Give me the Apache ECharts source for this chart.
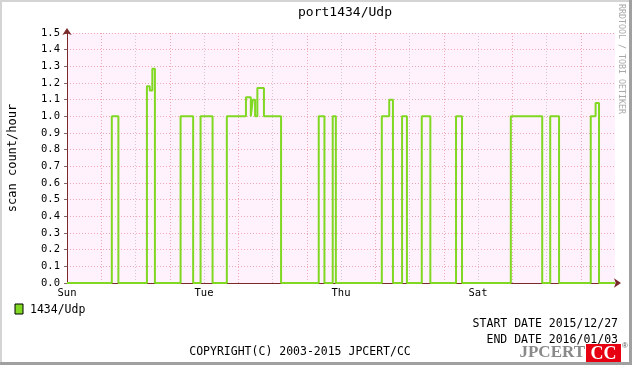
<!DOCTYPE html>
<html>
<head>
<meta charset="utf-8">
<script src="https://cdn.jsdelivr.net/npm/echarts@6/dist/echarts.min.js"></script>
<style>
html,body{margin:0;padding:0;background:#fff;}
#c{width:632px;height:365px;}
</style>
</head>
<body>
<div id="c"></div>
<script>
// ---- data ----
const chartTitle = 'port1434/Udp';
const seriesName = '1434/Udp';
const yAxisTitle = 'scan count/hour';
const dayLabels = ['Sun', 'Tue', 'Thu', 'Sat'];           // one label every 48 h
const startDate = 'START DATE 2015/12/27';
const endDate = 'END DATE 2016/01/03';
const copyright = 'COPYRIGHT(C) 2003-2015 JPCERT/CC';
// hour (from Sun 00:00) where each level begins
const changeHours = [0, 15.7, 18.0, 28.0, 29.0, 29.9, 30.8, 39.8, 44.2, 46.8, 51.0,
  56.0, 62.7, 64.4, 65.1, 65.9, 66.7, 69.0, 75.0, 88.2, 90.2, 93.1, 94.2,
  110.3, 112.9, 114.2, 117.4, 119.1, 124.3, 127.3, 136.3, 138.4, 155.5, 166.5,
  169.3, 172.4, 183.5, 185.2, 186.4, 192];
// scan count/hour level starting at that hour
const levels = [0, 1.0, 0, 1.18, 1.155, 1.285, 0, 1.0, 0, 1.0, 0,
  1.0, 1.114, 1.0, 1.10, 1.0, 1.17, 1.0, 0, 1.0, 0, 1.0, 0,
  1.0, 1.10, 0, 1.0, 0, 1.0, 0, 1.0, 0, 1.0, 0,
  1.0, 0, 1.0, 1.08, 0, 0];

const seriesData = changeHours.map((h, i) => [h, levels[i]]);

const mono = 'DejaVu Sans Mono';
const lineColor = '#80d822';
const chart = echarts.init(document.getElementById('c'), null, {renderer: 'canvas'});
chart.setOption({
  backgroundColor: '#ffffff',
  animation: false,
  grid: {left: 67, right: 17, top: 33, bottom: 82, outerBoundsMode: 'none', containLabel: false,
    show: true, backgroundColor: '#fff2fc', borderWidth: 0},
  xAxis: {
    type: 'value', min: 0, max: 192, interval: 12,
    axisLine: {show: true, lineStyle: {color: '#7a2a2a', width: 1}, symbol: ['none', 'arrow'], symbolSize: [7, 7], symbolOffset: [0, 6]},
    axisTick: {show: false},
    axisLabel: {
      margin: 5, fontFamily: mono, fontSize: 10.5, color: '#000',
      showMaxLabel: false,
      formatter: v => (v % 48 === 0 && v / 48 < dayLabels.length) ? dayLabels[v / 48] : ''
    },
    splitLine: {show: true, showMinLine: false, showMaxLine: false,
      lineStyle: {type: [1, 2], width: 1, color: ['#eca8b0', '#d8c4d4']}}
  },
  yAxis: {
    type: 'value', min: 0, max: 1.5, interval: 0.1,
    name: yAxisTitle, nameLocation: 'middle', nameRotate: 90, nameGap: 48,
    nameTextStyle: {fontFamily: mono, fontSize: 12, color: '#000'},
    axisLine: {show: true, lineStyle: {color: '#7a2a2a', width: 1}, symbol: ['none', 'arrow'], symbolSize: [7, 7], symbolOffset: [0, 5]},
    axisTick: {show: true, length: 3, inside: false, lineStyle: {color: '#886666'}},
    axisLabel: {margin: 7, fontFamily: mono, fontSize: 10.5, color: '#000', formatter: v => v.toFixed(1)},
    splitLine: {show: true, showMinLine: false, lineStyle: {type: [1, 2], width: 1, color: '#eca8b0'}}
  },
  series: [{
    name: seriesName, type: 'line', step: 'end', data: seriesData,
    symbol: 'none', clip: false,
    lineStyle: {color: lineColor, width: 2}, z: 5
  }],
  graphic: [
    // outer frame
    {type: 'rect', left: 0, top: 0, shape: {width: 632, height: 2}, style: {fill: '#d4d4d4'}, silent: true},
    {type: 'rect', left: 0, top: 0, shape: {width: 2, height: 365}, style: {fill: '#d4d4d4'}, silent: true},
    {type: 'rect', left: 629, top: 0, shape: {width: 3, height: 365}, style: {fill: '#a0a0a0'}, silent: true},
    {type: 'rect', left: 0, top: 362, shape: {width: 632, height: 3}, style: {fill: '#a0a0a0'}, silent: true},
    // title
    {type: 'text', x: 345, y: 13, style: {text: chartTitle, font: '13px "DejaVu Sans Mono"', fill: '#000', align: 'center', verticalAlign: 'middle'}},
    // watermark
    {type: 'text', x: 621, y: 4, rotation: -Math.PI / 2, style: {text: 'RRDTOOL / TOBI OETIKER', font: '8.3px "DejaVu Sans Mono"', fill: '#a8a8a8', align: 'left', verticalAlign: 'middle'}},
    // legend
    {type: 'rect', x: 15, y: 304, shape: {width: 8, height: 10}, style: {fill: lineColor, stroke: '#000', lineWidth: 1}},
    {type: 'text', x: 30, y: 310, style: {text: seriesName, font: '11.5px "DejaVu Sans Mono"', fill: '#000', align: 'left', verticalAlign: 'middle'}},
    // dates
    {type: 'text', x: 618, y: 324, style: {text: startDate, font: '11.5px "DejaVu Sans Mono"', fill: '#000', align: 'right', verticalAlign: 'middle'}},
    {type: 'text', x: 618, y: 340, style: {text: endDate, font: '11.5px "DejaVu Sans Mono"', fill: '#000', align: 'right', verticalAlign: 'middle'}},
    {type: 'text', x: 300, y: 352, style: {text: copyright, font: '11.5px "DejaVu Sans Mono"', fill: '#000', align: 'center', verticalAlign: 'middle'}},
    // logo
    {type: 'text', x: 585, y: 353, style: {text: 'JPCERT', font: 'bold 17px "Liberation Serif"', fill: '#8a8a8a', align: 'right', verticalAlign: 'middle'}},
    {type: 'rect', x: 586, y: 344, shape: {width: 35, height: 18}, style: {fill: '#e60012'}},
    {type: 'text', x: 603.5, y: 354, style: {text: 'CC', font: 'bold 18px "Liberation Serif"', fill: '#ffffff', align: 'center', verticalAlign: 'middle'}},
    {type: 'text', x: 622, y: 346, style: {text: '®', font: '8px "Liberation Sans"', fill: '#555', align: 'left', verticalAlign: 'middle'}}
  ]
});
</script>
</body>
</html>
